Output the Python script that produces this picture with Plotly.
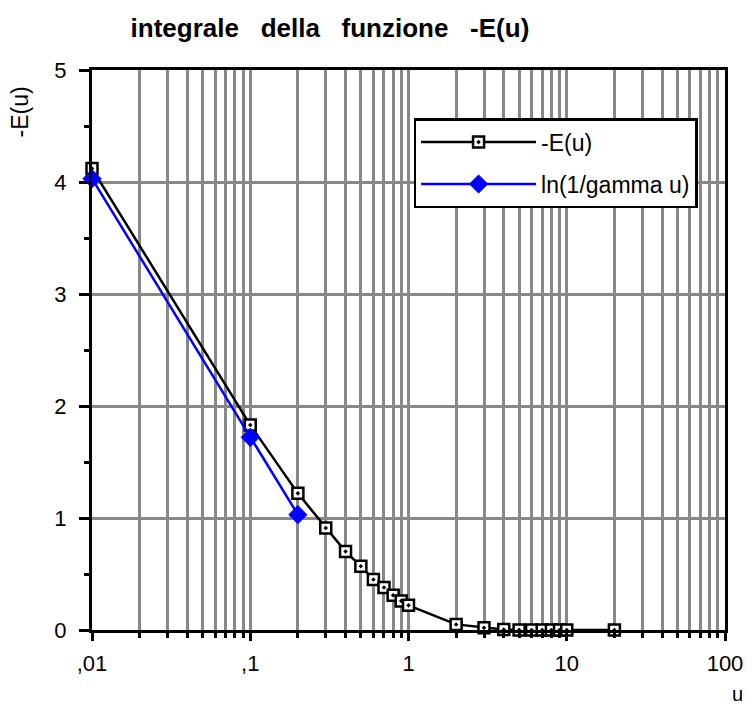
import plotly.graph_objects as go

# -E(u) series
u_vals = [0.01, 0.1, 0.2, 0.3, 0.4, 0.5, 0.6, 0.7, 0.8, 0.9, 1.0,
          2, 3, 4, 5, 6, 7, 8, 9, 10, 20]
negE_vals = [4.12, 1.83, 1.22, 0.91, 0.70, 0.57, 0.45, 0.38, 0.31, 0.26, 0.22,
             0.05, 0.02, 0.004, 0.001, 0.0004, 0.0001, 0.0, 0.0, 0.0, 0.0]

# ln(1/gamma u) series
u_ln = [0.01, 0.1, 0.2]
ln_vals = [4.03, 1.72, 1.03]

x_tickvals = [0.01, 0.1, 1, 10, 100]
x_ticktext = [",01", ",1", "1", "10", "100"]
y_tickvals = [0, 1, 2, 3, 4, 5]

FONT = "Liberation Sans, Arial, Helvetica, sans-serif"
GRID = "#888888"

fig = go.Figure()
fig.add_trace(go.Scatter(
    x=u_vals, y=negE_vals, name="-E(u)", mode="lines+markers",
    line=dict(color="black", width=2.5),
    marker=dict(symbol="square-dot", size=11, color="white",
                line=dict(color="black", width=2.5)),
    cliponaxis=False, legendgroup="a",
))
fig.add_trace(go.Scatter(
    x=u_ln, y=ln_vals, name="ln(1/gamma u)", mode="lines+markers",
    line=dict(color="#0000ff", width=2.5),
    marker=dict(symbol="diamond", size=14, color="#0000ff",
                line=dict(color="#0000ff", width=1)),
    cliponaxis=False, legendgroup="b",
))

# page body has an 8px margin, so the figure is sized/offset accordingly
fig.update_layout(
    width=747, height=701,
    margin=dict(l=84, r=27, t=62, b=79),
    paper_bgcolor="white", plot_bgcolor="white",
    font=dict(family=FONT, size=22, color="black"),
    title=dict(text="<b>integrale   della   funzione   -E(u)</b>",
               xref="container", yref="container",
               x=0.431, xanchor="center", y=0.972, yanchor="middle",
               font=dict(size=26, family=FONT)),
    showlegend=True,
    legend=dict(x=0.508, y=0.914, xanchor="left", yanchor="top",
                bgcolor="white", bordercolor="black", borderwidth=2.5,
                itemwidth=115, tracegroupgap=9, traceorder="grouped",
                font=dict(size=23, family=FONT)),
    annotations=[
        dict(text="-E(u)", xref="paper", yref="paper", x=-0.113, y=0.925,
             xanchor="center", yanchor="middle", textangle=-90,
             showarrow=False, font=dict(size=23, family=FONT)),
        dict(text="u", xref="paper", yref="paper", x=1.019, y=-0.114,
             xanchor="center", yanchor="middle", borderpad=0,
             showarrow=False, font=dict(size=20, family=FONT)),
    ],
)

fig.update_xaxes(
    type="log", range=[-2, 2],
    tickvals=x_tickvals, ticktext=x_ticktext,
    ticks="outside", ticklen=8, tickwidth=2.5, tickcolor="black",
    ticklabelstandoff=4,
    showline=True, linecolor="black", linewidth=3, mirror=True,
    showgrid=True, gridcolor=GRID, gridwidth=2.5,
    minor=dict(dtick="D1", showgrid=True, gridcolor=GRID, gridwidth=2.5,
               ticks="outside", ticklen=5, tickwidth=2.5, tickcolor="black"),
    tickfont=dict(size=22, family=FONT), zeroline=False,
)
fig.update_yaxes(
    range=[0, 5], tickvals=y_tickvals,
    ticks="outside", ticklen=10, tickwidth=2.5, tickcolor="black",
    ticklabelstandoff=8,
    showline=True, linecolor="black", linewidth=3, mirror=True,
    showgrid=True, gridcolor=GRID, gridwidth=2.5,
    minor=dict(dtick=0.5, showgrid=False, ticks="outside", ticklen=5,
               tickwidth=2.5, tickcolor="black"),
    tickfont=dict(size=22, family=FONT), zeroline=False,
)

fig.write_html("out.html")
